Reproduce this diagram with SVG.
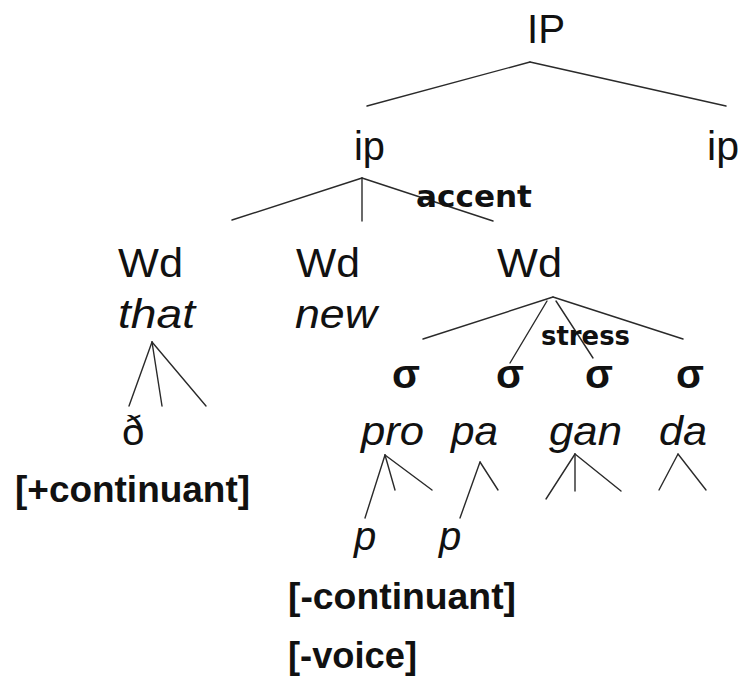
<svg xmlns="http://www.w3.org/2000/svg" width="745" height="677" viewBox="0 0 745 677">
<style>
.n{font-family:"Liberation Sans",Arial,sans-serif;font-size:40px;fill:#111}
.i{font-family:"Liberation Sans",Arial,sans-serif;font-size:40px;font-style:italic;fill:#111}
.s{font-family:"Liberation Sans",Arial,sans-serif;font-size:40px;font-weight:bold;fill:#111}
.f{font-family:"Liberation Sans",Arial,sans-serif;font-size:36px;font-weight:bold;fill:#111}
.l{font-family:"DejaVu Sans","Liberation Sans",sans-serif;font-weight:bold;fill:#111}
.c line{stroke:#2a2a2a;stroke-width:1.4;stroke-linecap:round}
</style>
<rect width="745" height="677" fill="#fff"/>
<g class="c" id="connectors">
<line x1="530" y1="62" x2="367" y2="106"/>
<line x1="530" y1="62" x2="726" y2="106"/>
<line x1="362" y1="178" x2="232" y2="220"/>
<line x1="362" y1="178" x2="362" y2="221"/>
<line x1="362" y1="178" x2="493" y2="221"/>
<line x1="152" y1="342" x2="129" y2="406"/>
<line x1="152" y1="342" x2="162" y2="406"/>
<line x1="152" y1="342" x2="206" y2="406"/>
<line x1="553" y1="297" x2="423" y2="339"/>
<line x1="547" y1="301" x2="510" y2="363"/>
<line x1="556" y1="301" x2="593" y2="358"/>
<line x1="553" y1="297" x2="683" y2="339"/>
<line x1="385" y1="455" x2="365" y2="518"/>
<line x1="385" y1="455" x2="395" y2="490"/>
<line x1="385" y1="455" x2="432" y2="490"/>
<line x1="480" y1="462" x2="460" y2="518"/>
<line x1="480" y1="462" x2="498" y2="490"/>
<line x1="575" y1="454" x2="546" y2="499"/>
<line x1="575" y1="454" x2="575" y2="491"/>
<line x1="575" y1="454" x2="621" y2="491"/>
<line x1="678" y1="454" x2="659" y2="490"/>
<line x1="678" y1="454" x2="706" y2="490"/>
</g>
<g id="IP"><text class="n" x="527" y="43" textLength="38" lengthAdjust="spacingAndGlyphs">IP</text></g>
<g id="ip1"><text class="n" x="354" y="160" textLength="31" lengthAdjust="spacingAndGlyphs">ip</text></g>
<g id="ip2"><text class="n" x="707" y="160" textLength="32" lengthAdjust="spacingAndGlyphs">ip</text></g>
<g id="accent"><text class="l" x="416" y="207" font-size="30" textLength="116" lengthAdjust="spacingAndGlyphs">accent</text></g>
<g id="wd1"><text class="n" x="118" y="277" textLength="65" lengthAdjust="spacingAndGlyphs">Wd</text><text class="i" x="118" y="328" textLength="77" lengthAdjust="spacingAndGlyphs">that</text></g>
<g id="wd2"><text class="n" x="296" y="277" textLength="64" lengthAdjust="spacingAndGlyphs">Wd</text><text class="i" x="295" y="328" textLength="82" lengthAdjust="spacingAndGlyphs">new</text></g>
<g id="wd3"><text class="n" x="497" y="277" textLength="65" lengthAdjust="spacingAndGlyphs">Wd</text></g>
<g id="stress"><text class="l" x="541" y="345" font-size="26" textLength="89" lengthAdjust="spacingAndGlyphs">stress</text></g>
<g id="syl1"><text class="s" x="392" y="388" textLength="28" lengthAdjust="spacingAndGlyphs">σ</text><text class="i" x="361" y="445" textLength="63" lengthAdjust="spacingAndGlyphs">pro</text></g>
<g id="syl2"><text class="s" x="496" y="388" textLength="28" lengthAdjust="spacingAndGlyphs">σ</text><text class="i" x="451" y="445" textLength="47" lengthAdjust="spacingAndGlyphs">pa</text></g>
<g id="syl3"><text class="s" x="585" y="388" textLength="28" lengthAdjust="spacingAndGlyphs">σ</text><text class="i" x="549" y="445" textLength="73" lengthAdjust="spacingAndGlyphs">gan</text></g>
<g id="syl4"><text class="s" x="676" y="388" textLength="28" lengthAdjust="spacingAndGlyphs">σ</text><text class="i" x="659" y="445" textLength="48" lengthAdjust="spacingAndGlyphs">da</text></g>
<g id="eth"><text class="n" x="122" y="445">ð</text><text class="f" x="15" y="502" textLength="235" lengthAdjust="spacingAndGlyphs">[+continuant]</text></g>
<g id="p1"><text class="i" x="354" y="550">p</text></g>
<g id="p2"><text class="i" x="439" y="550">p</text></g>
<g id="features"><text class="f" x="288" y="609" font-size="37" textLength="228" lengthAdjust="spacingAndGlyphs">[-continuant]</text><text class="f" x="288" y="668" textLength="129" lengthAdjust="spacingAndGlyphs">[-voice]</text></g>
</svg>
